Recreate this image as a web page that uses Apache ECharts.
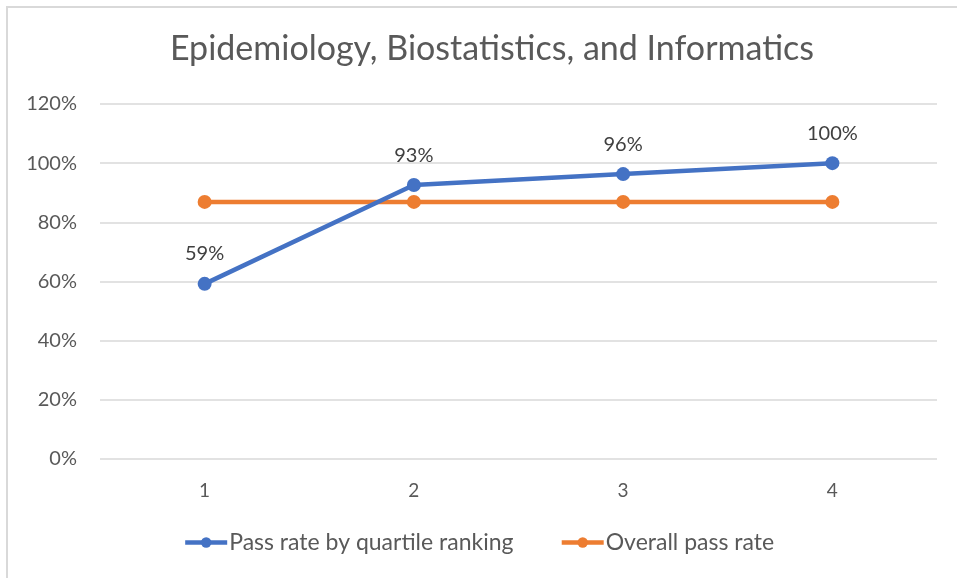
<!DOCTYPE html>
<html>
<head>
<meta charset="utf-8">
<script src="https://cdn.jsdelivr.net/npm/echarts@6/dist/echarts.min.js"></script>
<style>
html,body{margin:0;padding:0;background:#fff;}
#frame{position:absolute;left:6px;top:6px;width:1000px;height:1000px;border:2px solid #d9d9d9;box-sizing:border-box;}
#c{position:absolute;left:0;top:0;width:957px;height:578px;}
</style>
</head>
<body>
<div id="frame"></div>
<div id="c"></div>
<script>
const categories = ['1', '2', '3', '4'];
const quartileRates = [59.2, 92.6, 96.3, 100];
const quartileLabels = ['59%', '93%', '96%', '100%'];
const overallRates = [86.9, 86.9, 86.9, 86.9];
const yTicks = [0, 20, 40, 60, 80, 100, 120];

const font = 'Lato, "Open Sans", sans-serif';
const chart = echarts.init(document.getElementById('c'), null, {renderer: 'canvas'});
chart.setOption({
  animation: false,
  backgroundColor: 'transparent',
  title: {
    text: 'Epidemiology, Biostatistics, and Informatics',
    left: 487, top: 27, textAlign: 'center',
    textStyle: {fontFamily: font, fontSize: 34, fontWeight: 'normal', color: '#595959'}
  },
  grid: {left: 100, right: 20, top: 104, bottom: 119, containLabel: false},
  legend: {
    bottom: 19, left: 'center', itemGap: 46, itemWidth: 42, itemHeight: 13,
    lineStyle: {width: 4.5},
    textStyle: {fontFamily: font, fontSize: 23, color: '#595959', padding: [0, 0, 0, -3]},
    data: ['Pass rate by quartile ranking', 'Overall pass rate']
  },
  xAxis: {
    type: 'category', data: categories, boundaryGap: true,
    axisLine: {show: false}, axisTick: {show: false},
    axisLabel: {fontFamily: font, fontSize: 19, color: '#595959', margin: 22}
  },
  yAxis: {
    type: 'value', min: yTicks[0], max: yTicks[yTicks.length - 1], interval: 20,
    axisLine: {show: false}, axisTick: {show: false},
    axisLabel: {fontFamily: font, fontSize: 20, color: '#595959', margin: 23, formatter: v => v + '%'},
    splitLine: {lineStyle: {color: '#d9d9d9', width: 1.5}}
  },
  series: [
    {
      name: 'Pass rate by quartile ranking', type: 'line', data: quartileRates,
      symbol: 'circle', symbolSize: 14, z: 3,
      lineStyle: {color: '#4472C4', width: 4.5}, itemStyle: {color: '#4472C4'},
      label: {show: true, position: 'top', distance: 13, fontFamily: font, fontSize: 20, color: '#404040',
        formatter: p => quartileLabels[p.dataIndex]}
    },
    {
      name: 'Overall pass rate', type: 'line', data: overallRates,
      symbol: 'circle', symbolSize: 14, z: 2,
      lineStyle: {color: '#ED7D31', width: 4.5}, itemStyle: {color: '#ED7D31'}
    }
  ]
});
</script>
</body>
</html>
